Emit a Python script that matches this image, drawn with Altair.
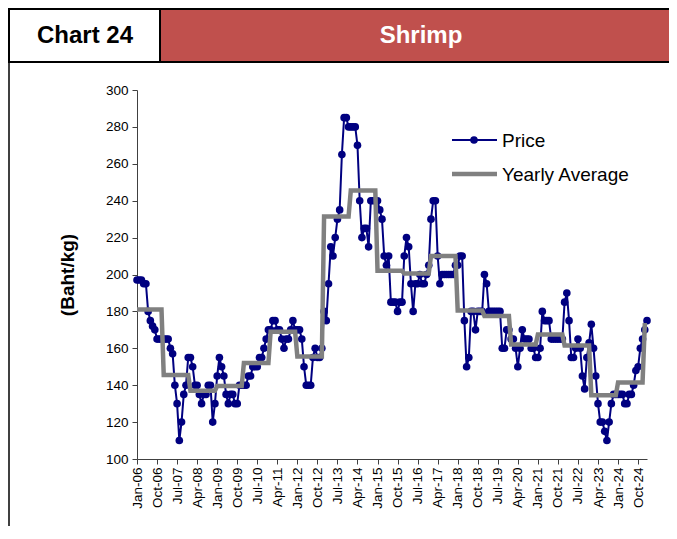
import json
import altair as alt
import pandas as pd

# ---------------- data ----------------
years = list(range(2006, 2026))
price_2006 = [197, 197, 197, 195, 195, 180, 175, 172, 170, 165, 165, 165]
price_2007 = [165, 165, 165, 160, 157, 140, 130, 110, 120, 135, 140, 155]
price_2008 = [155, 150, 140, 140, 135, 130, 135, 135, 140, 140, 120, 130]
price_2009 = [145, 155, 150, 145, 135, 130, 135, 135, 130, 130, 140, 140]
price_2010 = [140, 140, 145, 145, 150, 150, 150, 155, 155, 160, 165, 170]
price_2011 = [170, 175, 175, 170, 170, 165, 160, 165, 165, 170, 175, 170]
price_2012 = [170, 170, 165, 150, 140, 140, 140, 155, 160, 155, 155, 160]
price_2013 = [180, 175, 195, 215, 210, 220, 230, 235, 265, 285, 285, 280]
price_2014 = [280, 280, 280, 270, 240, 220, 225, 225, 215, 240, 240, 240]
price_2015 = [240, 235, 230, 210, 205, 210, 185, 185, 185, 180, 185, 185]
price_2016 = [210, 220, 215, 195, 180, 195, 195, 200, 195, 195, 200, 205]
price_2017 = [230, 240, 240, 210, 195, 200, 200, 200, 200, 200, 200, 205]
price_2018 = [205, 210, 210, 175, 150, 155, 180, 180, 170, 180, 180, 180]
price_2019 = [200, 195, 180, 180, 180, 180, 180, 180, 160, 160, 170, 170]
price_2020 = [165, 165, 160, 150, 160, 170, 165, 165, 165, 160, 160, 155]
price_2021 = [155, 160, 180, 175, 175, 175, 165, 165, 165, 165, 165, 165]
price_2022 = [185, 190, 175, 155, 155, 160, 165, 160, 145, 138, 155, 163]
price_2023 = [173, 160, 145, 130, 120, 120, 115, 110, 120, 130, 135, 135]
price_2024 = [135, 135, 135, 130, 130, 135, 135, 140, 148, 150, 160, 165]
price_2025 = [170, 175]

yearly_average = [181, 145.5, 137, 139.5, 152, 169, 155.5, 231.5, 245.5, 202,
                  200.5, 210, 180.5, 177.5, 162, 167.5, 161.5, 134.5, 141.5, 172.5]

tick_labels = ["Jan-06", "Oct-06", "Jul-07", "Apr-08", "Jan-09", "Oct-09", "Jul-10",
               "Apr-11", "Jan-12", "Oct-12", "Jul-13", "Apr-14", "Jan-15", "Oct-15",
               "Jul-16", "Apr-17", "Jan-18", "Oct-18", "Jul-19", "Apr-20", "Jan-21",
               "Oct-21", "Jul-22", "Apr-23", "Jan-24", "Oct-24"]

price_by_year = [price_2006, price_2007, price_2008, price_2009, price_2010, price_2011,
                 price_2012, price_2013, price_2014, price_2015, price_2016, price_2017,
                 price_2018, price_2019, price_2020, price_2021, price_2022, price_2023,
                 price_2024, price_2025]

rows = []
idx = 0
for yi, vals in enumerate(price_by_year):
    for v in vals:
        rows.append({"i": idx, "value": v, "series": "Price"})
        rows.append({"i": idx, "value": yearly_average[yi], "series": "Yearly Average"})
        idx += 1
df = pd.DataFrame(rows)
n_last = idx - 1

# ---------------- chart ----------------
FONT = "Liberation Sans"
NAVY = "#000080"
GREY = "#808080"
RED = "#C0504D"

W, H = 510, 369
PAD_L, PAD_T, PAD_R, PAD_B = 129, 82, 22, 67

label_expr = json.dumps(tick_labels) + "[round(datum.value / 9)]"

x_enc = alt.X("i:Q",
              scale=alt.Scale(domain=[0, n_last], nice=False, zero=False),
              axis=alt.Axis(values=list(range(0, 226, 9)), labelExpr=label_expr,
                            labelAngle=270, labelFontSize=13.5, labelPadding=3,
                            labelOverlap=False, labelFlush=False,
                            tickSize=5, title=None, grid=False,
                            domainColor="#404040", tickColor="#404040",
                            labelColor="#000000"))

y_enc = alt.Y("value:Q",
              scale=alt.Scale(domain=[100, 300], nice=False, zero=False),
              axis=alt.Axis(values=list(range(100, 301, 20)), labelFontSize=13.5,
                            labelPadding=4, tickSize=5, grid=False,
                            labelOverlap=False, labelFlush=False,
                            title="(Baht/kg)", titleFontSize=19, titleFontWeight="bold",
                            titleAngle=270, titleX=-70, titleY=H / 2,
                            titleAlign="center", titleBaseline="middle",
                            domainColor="#404040", tickColor="#404040",
                            labelColor="#000000", titleColor="#000000"))

base = alt.Chart(df).encode(x=x_enc, y=y_enc)
price_data = base.transform_filter(alt.datum.series == "Price")
avg_data = base.transform_filter(alt.datum.series == "Yearly Average")

price_line = price_data.mark_line(color=NAVY, strokeWidth=2)
price_pts = price_data.mark_point(filled=True, color=NAVY, size=58, opacity=1)
avg_line = avg_data.mark_line(color=GREY, strokeWidth=4.5)

one = alt.Chart(pd.DataFrame({"k": [0]}))

# legend (inside the plot, top right)
leg_price_rule = one.mark_rule(color=NAVY, strokeWidth=2).encode(
    x=alt.value(315), x2=alt.value(360), y=alt.value(50))
leg_price_pt = one.mark_point(filled=True, color=NAVY, size=58, opacity=1).encode(
    x=alt.value(337), y=alt.value(50))
leg_price_txt = one.mark_text(text="Price", align="left", baseline="middle",
                              fontSize=19, font=FONT, color="#000000").encode(
    x=alt.value(365), y=alt.value(51))
leg_avg_rule = one.mark_rule(color=GREY, strokeWidth=4.5).encode(
    x=alt.value(315), x2=alt.value(360), y=alt.value(84))
leg_avg_txt = one.mark_text(text="Yearly Average", align="left", baseline="middle",
                            fontSize=19, font=FONT, color="#000000").encode(
    x=alt.value(365), y=alt.value(85))

# header frame
hdr_left = one.mark_rect(fill="white", stroke="black", strokeWidth=2).encode(
    x=alt.value(-128), x2=alt.value(23), y=alt.value(-81), y2=alt.value(-28))
hdr_right = one.mark_rect(fill=RED, stroke="black", strokeWidth=2).encode(
    x=alt.value(23), x2=alt.value(560), y=alt.value(-81), y2=alt.value(-28))
hdr_left_txt = one.mark_text(text="Chart 24", align="center", baseline="middle",
                             fontSize=24, fontWeight="bold", font=FONT,
                             color="#000000").encode(x=alt.value(-52), y=alt.value(-54))
hdr_right_txt = one.mark_text(text="Shrimp", align="center", baseline="middle",
                              fontSize=24, fontWeight="bold", font=FONT,
                              color="#FFFFFF").encode(x=alt.value(284), y=alt.value(-54))
left_border = one.mark_rule(color="black", strokeWidth=1.5).encode(
    x=alt.value(-128), y=alt.value(-28), y2=alt.value(H + PAD_B))

chart = alt.layer(
    price_line, price_pts, avg_line,
    hdr_left, hdr_right, hdr_left_txt, hdr_right_txt, left_border,
    leg_price_rule, leg_price_pt, leg_price_txt, leg_avg_rule, leg_avg_txt,
).properties(
    width=W, height=H,
    autosize=alt.AutoSizeParams(type="none"),
    padding={"left": PAD_L, "top": PAD_T, "right": PAD_R, "bottom": PAD_B},
    background="white",
).configure(
    font=FONT
).configure_view(
    stroke="transparent", strokeWidth=0
).configure_axis(
    labelFont=FONT, titleFont=FONT
)

chart.save("out.html", embed_options={"renderer": "svg", "actions": False})
